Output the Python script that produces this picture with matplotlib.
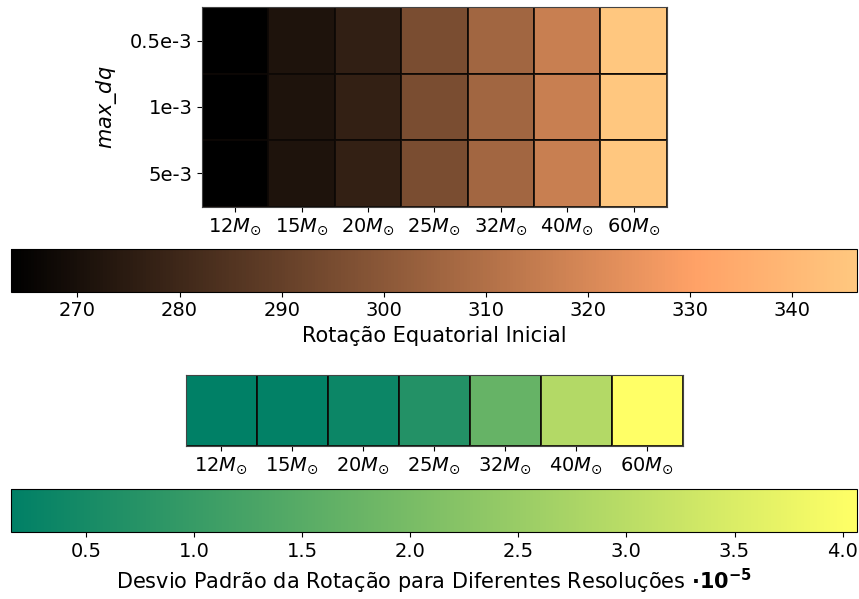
import numpy as np
import matplotlib
matplotlib.use("Agg")
import matplotlib.pyplot as plt

masses = [r"12$M_{\odot}$", r"15$M_{\odot}$", r"20$M_{\odot}$", r"25$M_{\odot}$",
          r"32$M_{\odot}$", r"40$M_{\odot}$", r"60$M_{\odot}$"]
dq_labels = ["0.5e-3", "1e-3", "5e-3"]

rot_dq05 = [263.5, 271.4, 276.7, 295.6, 305.8, 316.0, 346.3]
rot_dq1 = [263.5, 271.4, 276.8, 295.6, 305.8, 316.0, 346.3]
rot_dq5 = [263.5, 271.5, 276.8, 295.7, 305.9, 316.1, 346.2]

std_rot = [0.154, 0.19, 0.35, 0.70, 1.72, 2.89, 4.065]

W, H = 859, 599
fig = plt.figure(figsize=(W / 100, H / 100), dpi=100)

def ax_px(l, t, r, b):
    return fig.add_axes([l / W, (H - b) / H, (r - l) / W, (b - t) / H])

fs = 14
fl = 15
edge = (0.05, 0.03, 0.02, 0.85)

# Top heatmap
ax1 = ax_px(202, 7.3, 666.7, 206.7)
data1 = np.array([rot_dq05, rot_dq1, rot_dq5])
m1 = ax1.pcolormesh(data1, cmap="copper", edgecolors=edge, linewidth=1.3)
ax1.set_xlim(0, 7)
ax1.set_ylim(3, 0)
ax1.set_xticks(np.arange(7) + 0.5)
ax1.set_xticklabels(masses, fontsize=fs)
ax1.set_yticks(np.arange(3) + 0.5)
ax1.set_yticklabels(dq_labels, fontsize=fs)
ax1.set_ylabel(r"$max\_dq$", fontsize=fl, labelpad=8)
for s in ax1.spines.values():
    s.set_color("#444444")

cax1 = ax_px(11, 249.3, 856.7, 291.7)
cb1 = fig.colorbar(m1, cax=cax1, orientation="horizontal")
cb1.set_ticks([270, 280, 290, 300, 310, 320, 330, 340])
cb1.ax.tick_params(labelsize=fs)
cb1.set_label("Rotação Equatorial Inicial", fontsize=fl)

# Bottom heatmap
ax2 = ax_px(185.7, 375, 682.7, 446)
data2 = np.array([std_rot])
m2 = ax2.pcolormesh(data2, cmap="summer", edgecolors=edge, linewidth=1.3)
ax2.set_xlim(0, 7)
ax2.set_ylim(1, 0)
ax2.set_xticks(np.arange(7) + 0.5)
ax2.set_xticklabels(masses, fontsize=fs)
ax2.set_yticks([])
for s in ax2.spines.values():
    s.set_color("#444444")

cax2 = ax_px(11, 489, 856.7, 532.3)
cb2 = fig.colorbar(m2, cax=cax2, orientation="horizontal")
cb2.set_ticks([0.5, 1.0, 1.5, 2.0, 2.5, 3.0, 3.5, 4.0])
cb2.ax.tick_params(labelsize=fs)
cb2.set_label(r"Desvio Padrão da Rotação para Diferentes Resoluções $\mathbf{\cdot 10^{-5}}$", fontsize=fl)

fig.savefig("out.png", dpi=100)
